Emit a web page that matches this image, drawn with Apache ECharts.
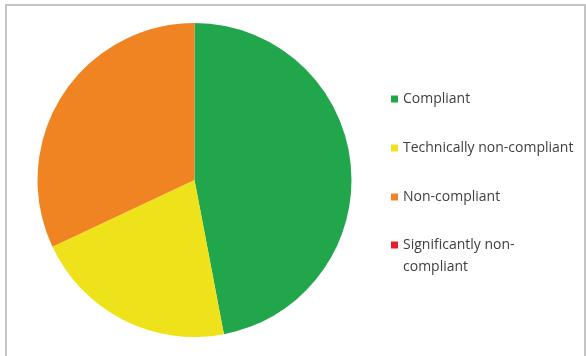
<!DOCTYPE html>
<html>
<head>
<meta charset="utf-8">
<script src="https://cdn.jsdelivr.net/npm/echarts@6/dist/echarts.min.js"></script>
<style>
  body { margin: 0; background: #fff; }
  #chart { width: 586px; height: 356px; }
</style>
</head>
<body>
<div id="chart"></div>
<script>
// compliance breakdown (percent)
var categories = ['Compliant', 'Technically non-compliant', 'Non-compliant', 'Significantly non-compliant'];
var values = [47, 21, 32, 0];
var colors = ['#22a64b', '#eee31b', '#f08422', '#e31f2c'];

var pieData = categories.map(function (name, i) {
	return { name: name, value: values[i] };
});

var chart = echarts.init(document.getElementById('chart'));

var legendText = {
	color: '#404040',
	fontFamily: 'Open Sans',
	fontSize: 14,
	lineHeight: 22
};

var option = {
	animation: false,
	color: colors,
	graphic: [{
		type: 'rect',
		shape: { x: 6, y: 5, width: 579, height: 400 },
		style: { fill: 'none', stroke: '#c4c4c4', lineWidth: 2 },
		silent: true
	}],
	legend: [{
		orient: 'vertical',
		left: 391,
		top: 88,
		padding: 0,
		itemWidth: 7,
		itemHeight: 7,
		itemGap: 27,
		textGap: 4,
		icon: 'rect',
		selectedMode: false,
		textStyle: legendText,
		data: categories.slice(0, 3)
	}, {
		orient: 'vertical',
		left: 391,
		top: 212,
		padding: 0,
		itemWidth: 7,
		itemHeight: 7,
		textGap: 4,
		icon: 'rect',
		selectedMode: false,
		// empty first line keeps the square level with "Significantly non-"
		formatter: function () { return '\nSignificantly non-\ncompliant'; },
		textStyle: legendText,
		data: categories.slice(3)
	}],
	series: [{
		type: 'pie',
		center: [194.5, 180],
		radius: 157,
		startAngle: 90,
		clockwise: true,
		silent: true,
		label: { show: false },
		labelLine: { show: false },
		itemStyle: { borderWidth: 0 },
		data: pieData
	}]
};
chart.setOption(option);
</script>
</body>
</html>
